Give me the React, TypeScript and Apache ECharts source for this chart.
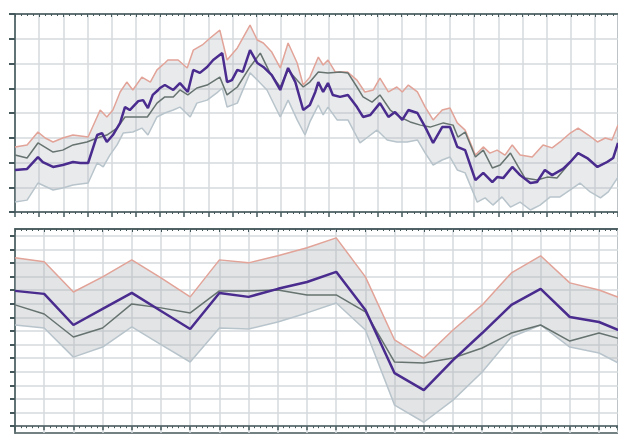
import React, { useEffect, useRef } from "react";
import * as echarts from "echarts";

// ---- Top panel (x in quarter-cell units, y in tenths of a cell) ----
const topUpper: number[][] = [
  [0, 26.3], [2.0, 27.1], [3.8, 32.3], [5.0, 29.9], [6.3, 28.3], [7.9, 29.9], [9.6, 31.1], [12.1, 30.3],
  [14.1, 41.2], [15.2, 38.4], [16.2, 41.2], [17.4, 48.5], [18.5, 52.5], [19.5, 49.3], [21.0, 54.5],
  [22.4, 52.5], [23.5, 57.4], [24.8, 60.2], [25.3, 61.4], [27.0, 61.4], [28.5, 58.2], [29.5, 65.4],
  [31.0, 67.5], [32.3, 70.3], [33.9, 73.5], [35.1, 61.4], [36.8, 66.3], [38.9, 75.5], [40.1, 69.5],
  [41.1, 68.3], [42.5, 64.6], [43.9, 58.2], [45.2, 68.3], [46.7, 60.2], [47.7, 51.3], [48.8, 54.5],
  [50.2, 62.6], [51.0, 59.4], [51.8, 61.4], [53.0, 56.6], [55.0, 56.6], [56.6, 53.3], [57.9, 48.5],
  [59.3, 49.3], [60.4, 54.1], [61.8, 48.5], [63.2, 50.5], [64.1, 48.5], [65.1, 51.3], [66.6, 48.5],
  [67.9, 42.4], [69.2, 37.2], [70.7, 41.2], [72.0, 42.0], [73.2, 36.0], [74.5, 33.1], [76.2, 23.0],
  [77.5, 26.3], [78.6, 23.8], [79.8, 25.0], [81.1, 23.0], [82.3, 27.1], [83.6, 23.0], [85.6, 22.2],
  [87.4, 27.1], [88.9, 25.9], [90.2, 28.3], [91.9, 31.9], [93.2, 33.9], [94.9, 31.1], [96.4, 28.3],
  [97.7, 29.9], [98.8, 29.1], [99.8, 35.1],
];

const topLower: number[][] = [
  [0, 4.0], [2.0, 4.8], [3.8, 11.7], [6.3, 8.9], [7.9, 9.7], [9.6, 10.9], [12.1, 11.7], [13.6, 19.8],
  [14.6, 18.2], [15.7, 23.0], [16.9, 27.1], [17.9, 31.9], [19.5, 32.3], [21.0, 33.9], [22.0, 31.1],
  [23.5, 38.4], [24.8, 40.0], [26.2, 41.2], [27.3, 42.4], [29.0, 38.4], [30.1, 44.0], [31.8, 45.2],
  [33.4, 48.1], [34.3, 50.1], [35.1, 42.4], [36.8, 44.0], [38.9, 56.2], [40.1, 53.3], [41.7, 49.3],
  [43.9, 38.4], [45.2, 45.2], [46.7, 37.2], [48.0, 31.1], [48.8, 36.4], [50.2, 43.2], [51.0, 39.2],
  [51.8, 42.4], [53.3, 37.2], [55.1, 37.2], [57.1, 27.9], [58.4, 30.3], [59.9, 33.1], [61.6, 29.1],
  [63.2, 28.3], [64.9, 28.3], [66.6, 29.1], [67.9, 23.8], [69.2, 19.0], [70.7, 21.0], [72.0, 22.2],
  [73.2, 17.0], [74.5, 15.8], [76.5, 4.0], [77.8, 5.7], [79.1, 2.8], [80.6, 6.1], [82.0, 2.0],
  [83.6, 4.0], [85.3, 0.8], [86.9, 2.8], [88.6, 6.1], [90.2, 6.1], [91.9, 8.9], [93.5, 11.7],
  [95.2, 8.1], [96.9, 5.7], [98.2, 8.1], [99.8, 14.1],
];

const topMean: number[][] = [
  [0, 23.0], [2.0, 21.8], [3.8, 27.9], [6.3, 24.2], [7.9, 25.0], [9.6, 27.1], [11.9, 28.3], [13.6, 29.9],
  [15.2, 31.1], [16.9, 33.9], [18.2, 38.4], [20.2, 38.4], [21.9, 38.4], [23.5, 44.0], [24.8, 46.5],
  [26.2, 46.5], [27.3, 49.3], [28.6, 47.3], [30.1, 50.1], [31.8, 51.3], [33.9, 54.5], [35.1, 47.3],
  [36.8, 50.5], [38.9, 58.6], [40.6, 64.2], [42.2, 56.2], [43.9, 50.5], [45.2, 57.4], [47.7, 50.5],
  [48.8, 52.5], [50.2, 56.6], [51.8, 56.2], [53.8, 56.6], [55.1, 56.2], [56.6, 50.5], [57.6, 46.5],
  [59.1, 44.4], [60.4, 47.3], [62.1, 41.2], [63.7, 38.4], [65.4, 36.4], [67.1, 35.1], [68.7, 34.3],
  [70.9, 36.0], [72.5, 35.1], [73.3, 30.3], [74.5, 32.3], [76.2, 22.2], [77.5, 25.0], [79.0, 17.8],
  [80.3, 19.0], [82.0, 23.8], [83.3, 18.2], [84.4, 13.7], [86.4, 12.9], [88.1, 14.1], [89.7, 13.7],
  [91.1, 17.8], [91.9, 20.2], [93.2, 23.8], [94.7, 21.8], [96.4, 18.2], [98.0, 20.2], [99.0, 21.8],
  [99.8, 27.9],
];

const topModel: number[][] = [
  [0, 17.0], [2.0, 17.4], [3.8, 22.2], [4.6, 20.2], [6.3, 18.2], [7.9, 19.0], [9.6, 20.2], [10.8, 19.8],
  [12.1, 19.8], [13.6, 31.1], [14.4, 31.9], [15.2, 28.3], [16.2, 31.1], [17.4, 36.0], [18.2, 42.4],
  [19.0, 41.2], [20.4, 44.8], [21.2, 45.2], [22.0, 42.0], [22.8, 47.3], [23.7, 49.3], [24.0, 50.1],
  [24.8, 51.3], [26.2, 49.3], [27.3, 52.1], [28.6, 48.5], [29.5, 57.4], [30.6, 56.2], [31.8, 58.6],
  [32.8, 61.4], [34.3, 64.2], [35.1, 52.5], [35.9, 53.3], [36.8, 57.4], [37.7, 56.6], [38.9, 65.4],
  [40.1, 60.2], [41.1, 58.6], [42.5, 55.3], [43.9, 49.3], [45.2, 58.2], [46.4, 52.5], [47.7, 41.2],
  [48.8, 43.2], [49.7, 48.5], [50.2, 52.5], [51.0, 48.5], [51.8, 52.1], [52.6, 47.3], [53.8, 46.5],
  [55.1, 47.3], [56.6, 42.4], [57.6, 38.4], [58.8, 39.2], [60.4, 44.0], [61.8, 38.4], [62.9, 40.4],
  [64.1, 37.2], [65.1, 41.2], [66.6, 40.0], [67.9, 34.3], [69.2, 27.9], [70.7, 34.3], [72.0, 34.3],
  [73.2, 26.3], [74.5, 25.0], [76.2, 12.9], [77.5, 15.8], [79.0, 12.1], [79.8, 14.1], [80.8, 13.7],
  [82.3, 18.2], [83.6, 14.9], [85.3, 11.7], [86.4, 12.1], [87.7, 17.0], [88.9, 14.9], [90.7, 17.4],
  [91.9, 20.2], [93.2, 23.8], [94.7, 21.8], [96.4, 18.2], [98.0, 20.2], [99.0, 21.8], [99.8, 27.9],
];

// ---- Bottom panel (one value per grid column) ----
const bottomUpper = [12.38, 12.09, 9.87, 10.98, 12.23, 10.9, 9.51, 12.23, 12.01, 12.53, 13.12, 13.85, 10.98, 6.34, 5.01, 7.07, 8.92, 11.27, 12.53, 10.54, 10.02, 9.2];
const bottomLower = [7.44, 7.22, 5.08, 5.82, 7.3, 6.0, 4.72, 7.22, 7.15, 7.66, 8.33, 9.06, 7.07, 1.55, 0.29, 1.92, 3.98, 6.56, 7.44, 5.82, 5.38, 4.27];
const bottomMean = [8.92, 8.25, 6.56, 7.22, 8.99, 8.7, 8.33, 9.95, 9.95, 10.02, 9.65, 9.65, 8.4, 4.72, 4.64, 5.01, 5.75, 6.85, 7.44, 6.26, 6.85, 6.26];
const bottomModel = [9.95, 9.73, 7.44, 8.62, 9.8, 8.47, 7.15, 9.8, 9.51, 10.1, 10.6, 11.35, 8.55, 3.9, 2.65, 4.86, 6.85, 8.92, 10.1, 8.03, 7.66, 6.78];
const bottomTickValues = [0, 1, 2, 3, 4, 5, 6, 7, 8, 9, 10, 11, 12, 13, 14];

const AXIS = "#45585b";
const GRIDLINE = "#d6dadd";
const PURPLE = "#4a2b8e";
const MEAN = "#66736f";
const PINK = "#e2a398";
const LOWER = "#b8c4cb";

const indexed = (arr: number[]) => arr.map((v, i) => [i, v]);

function bandSeries(upper: number[][], lower: number[][], axisIndex: number, fill: string) {
  return {
    type: "custom",
    xAxisIndex: axisIndex,
    yAxisIndex: axisIndex,
    data: [[0, 0]],
    silent: true,
    z: 1,
    renderItem: (_params: any, api: any) => {
      const pts = upper
        .map((p) => api.coord(p))
        .concat(lower.slice().reverse().map((p) => api.coord(p)));
      return { type: "polygon", shape: { points: pts }, style: { fill } };
    },
  };
}

function lineSeries(data: number[][], axisIndex: number, color: string, width: number, z: number) {
  return {
    type: "line",
    xAxisIndex: axisIndex,
    yAxisIndex: axisIndex,
    data,
    showSymbol: false,
    symbol: "none",
    lineStyle: { color, width },
    z,
  };
}

export default function App() {
  const ref = useRef<HTMLDivElement>(null);
  useEffect(() => {
    if (!ref.current) return;
    const chart = echarts.init(ref.current, undefined, { renderer: "svg" });
    const splitLine = { show: true, lineStyle: { color: GRIDLINE, width: 1.5 } };
    const axisLine = { show: true, lineStyle: { color: AXIS, width: 1.5 } };
    const topBorderAxis = (gridIndex: number, max: number, interval: number, split: number) => ({
      type: "value", gridIndex, min: 0, max, interval, position: "top",
      axisLine, axisLabel: { show: false },
      axisTick: { show: true, inside: true, length: 3, lineStyle: { color: AXIS } },
      minorTick: { show: true, splitNumber: split, length: 2, lineStyle: { color: AXIS } },
      splitLine: { show: false },
    });
    chart.setOption({
      animation: false,
      grid: [
        { left: 15, top: 14, width: 603, height: 198, show: true, borderColor: AXIS, borderWidth: 1.5, backgroundColor: "#fff" },
        { left: 15, top: 229, width: 603, height: 204, show: true, borderColor: AXIS, borderWidth: 1.5, backgroundColor: "#fff" },
      ],
      xAxis: [
        {
          type: "value", gridIndex: 0, min: 0, max: 99.8, interval: 4,
          axisLine, axisLabel: { show: false },
          axisTick: { show: true, length: 5, lineStyle: { color: AXIS, width: 1.5 } },
          minorTick: { show: true, splitNumber: 4, length: 2, lineStyle: { color: AXIS } },
          splitLine,
        },
        {
          type: "value", gridIndex: 1, min: 0, max: 20.65, interval: 1,
          axisLine, axisLabel: { show: false },
          axisTick: { show: true, length: 4, lineStyle: { color: AXIS, width: 1.5 } },
          minorTick: { show: true, splitNumber: 5, length: 2, lineStyle: { color: AXIS } },
          splitLine,
        },
        topBorderAxis(0, 99.8, 4, 4),
        topBorderAxis(1, 20.65, 1, 5),
      ],
      yAxis: [
        {
          type: "value", gridIndex: 0, min: 0, max: 80, interval: 10,
          axisLine, axisLabel: { show: false },
          axisTick: { show: true, length: 6, lineStyle: { color: AXIS, width: 2 } },
          splitLine,
        },
        {
          type: "value", gridIndex: 1, min: -0.5, max: 14.5,
          axisLine, axisLabel: { show: false, customValues: bottomTickValues },
          axisTick: { show: true, length: 5, customValues: bottomTickValues, lineStyle: { color: AXIS, width: 2 } },
          splitLine,
        },
      ],
      series: [
        bandSeries(topUpper, topLower, 0, "rgba(180,186,192,0.3)"),
        lineSeries(topLower, 0, LOWER, 1.5, 3),
        lineSeries(topUpper, 0, PINK, 1.5, 3),
        lineSeries(topMean, 0, MEAN, 1.5, 4),
        lineSeries(topModel, 0, PURPLE, 2.5, 5),
        bandSeries(indexed(bottomUpper), indexed(bottomLower), 1, "rgba(175,180,186,0.36)"),
        lineSeries(indexed(bottomLower), 1, LOWER, 1.5, 3),
        lineSeries(indexed(bottomUpper), 1, PINK, 1.5, 3),
        lineSeries(indexed(bottomMean), 1, MEAN, 1.5, 4),
        lineSeries(indexed(bottomModel), 1, PURPLE, 2.5, 5),
      ],
    });
    return () => chart.dispose();
  }, []);
  return <div ref={ref} style={{ position: "absolute", left: 0, top: 0, width: 618, height: 434 }} />;
}
